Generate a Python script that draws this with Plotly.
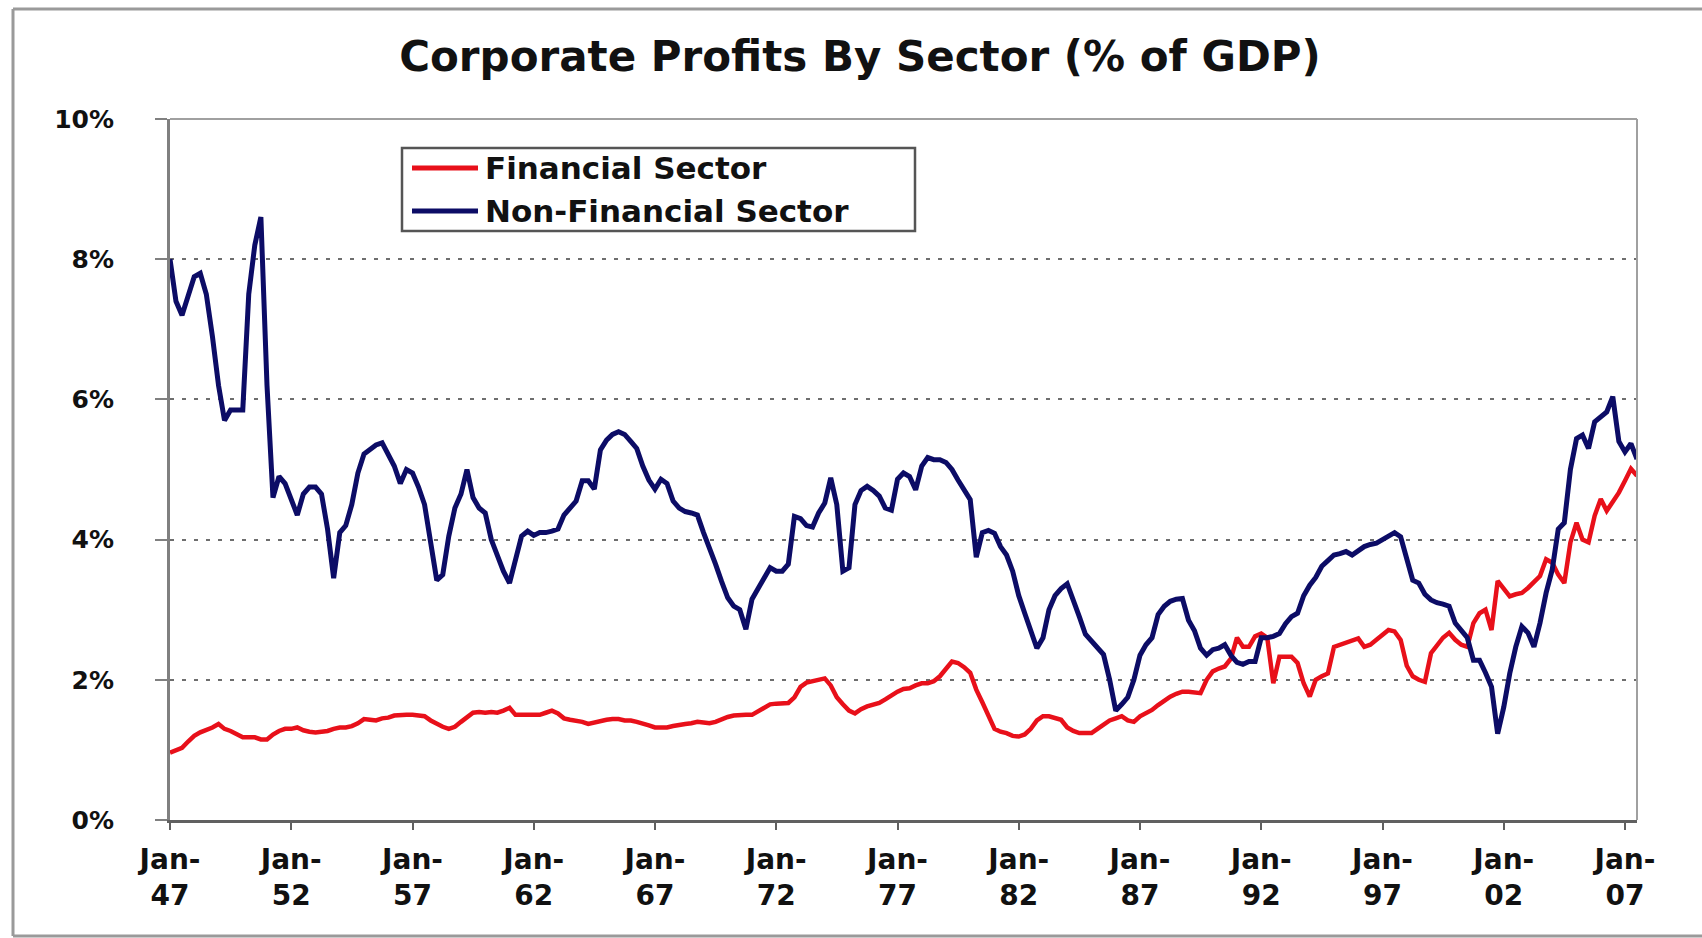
import pandas as pd
import plotly.graph_objects as go

# Quarterly corporate profits by sector, % of GDP, starting 1947 Q1
start_quarter = "1947-01-01"

financial = [
    0.96, 1.00, 1.03, 1.12,   # 1947
    1.20, 1.25, 1.28, 1.32,   # 1948
    1.37, 1.30, 1.27, 1.22,   # 1949
    1.18, 1.18, 1.18, 1.15,   # 1950
    1.15, 1.22, 1.27, 1.30,   # 1951
    1.30, 1.32, 1.28, 1.26,   # 1952
    1.25, 1.26, 1.27, 1.30,   # 1953
    1.32, 1.32, 1.34, 1.38,   # 1954
    1.44, 1.43, 1.42, 1.45,   # 1955
    1.46, 1.49, 1.50, 1.50,   # 1956
    1.50, 1.49, 1.48, 1.42,   # 1957
    1.37, 1.33, 1.30, 1.33,   # 1958
    1.40, 1.46, 1.53, 1.54,   # 1959
    1.53, 1.54, 1.53, 1.56,   # 1960
    1.60, 1.50, 1.50, 1.49,   # 1961
    1.50, 1.50, 1.53, 1.56,   # 1962
    1.52, 1.45, 1.43, 1.42,   # 1963
    1.40, 1.37, 1.39, 1.42,   # 1964
    1.43, 1.44, 1.44, 1.42,   # 1965
    1.42, 1.40, 1.38, 1.35,   # 1966
    1.32, 1.32, 1.32, 1.34,   # 1967
    1.36, 1.37, 1.38, 1.40,   # 1968
    1.39, 1.38, 1.40, 1.44,   # 1969
    1.47, 1.49, 1.50, 1.50,   # 1970
    1.50, 1.55, 1.60, 1.65,   # 1971
    1.66, 1.66, 1.67, 1.75,   # 1972
    1.90, 1.96, 1.98, 2.00,   # 1973
    2.02, 1.92, 1.75, 1.65,   # 1974
    1.56, 1.52, 1.58, 1.62,   # 1975
    1.64, 1.67, 1.72, 1.78,   # 1976
    1.83, 1.87, 1.88, 1.92,   # 1977
    1.95, 1.95, 1.98, 2.05,   # 1978
    2.15, 2.26, 2.24, 2.18,   # 1979
    2.10, 1.86, 1.68, 1.50,   # 1980
    1.30, 1.26, 1.24, 1.20,   # 1981
    1.19, 1.22, 1.30, 1.42,   # 1982
    1.48, 1.48, 1.46, 1.43,   # 1983
    1.32, 1.27, 1.24, 1.24,   # 1984
    1.24, 1.30, 1.36, 1.42,   # 1985
    1.45, 1.48, 1.42, 1.40,   # 1986
    1.48, 1.52, 1.57, 1.64,   # 1987
    1.70, 1.76, 1.80, 1.83,   # 1988
    1.83, 1.82, 1.81, 2.00,   # 1989
    2.12, 2.16, 2.19, 2.30,   # 1990
    2.60, 2.47, 2.47, 2.62,   # 1991
    2.66, 2.60, 1.95, 2.33,   # 1992
    2.33, 2.33, 2.24, 1.95,   # 1993
    1.76, 2.00, 2.05, 2.09,   # 1994
    2.47, 2.50, 2.53, 2.57,   # 1995
    2.59, 2.47, 2.50, 2.57,   # 1996
    2.64, 2.71, 2.69, 2.57,   # 1997
    2.20, 2.05, 2.00, 1.97,   # 1998
    2.38, 2.50, 2.60, 2.67,   # 1999
    2.57, 2.50, 2.47, 2.81,   # 2000
    2.95, 3.00, 2.71, 3.41,   # 2001
    3.29, 3.19, 3.22, 3.24,   # 2002
    3.31, 3.40, 3.48, 3.72,   # 2003
    3.67, 3.50, 3.38, 3.96,   # 2004
    4.24, 4.00, 3.96, 4.34,   # 2005
    4.58, 4.41, 4.53, 4.67,   # 2006
    4.84, 5.01, 4.91,         # 2007
]

non_financial = [
    8.00, 7.40, 7.20, 7.50,   # 1947
    7.75, 7.80, 7.50, 6.90,   # 1948
    6.20, 5.70, 5.85, 5.85,   # 1949
    5.85, 7.50, 8.20, 8.60,   # 1950
    6.20, 4.60, 4.90, 4.80,   # 1951
    4.55, 4.35, 4.65, 4.75,   # 1952
    4.75, 4.65, 4.15, 3.45,   # 1953
    4.10, 4.20, 4.50, 4.95,   # 1954
    5.22, 5.28, 5.35, 5.38,   # 1955
    5.20, 5.05, 4.80, 5.00,   # 1956
    4.95, 4.75, 4.50, 4.00,   # 1957
    3.42, 3.50, 4.05, 4.45,   # 1958
    4.65, 5.00, 4.60, 4.45,   # 1959
    4.38, 4.00, 3.75, 3.55,   # 1960
    3.38, 3.75, 4.05, 4.12,   # 1961
    4.06, 4.10, 4.10, 4.12,   # 1962
    4.15, 4.35, 4.45, 4.55,   # 1963
    4.84, 4.84, 4.72, 5.28,   # 1964
    5.42, 5.50, 5.54, 5.50,   # 1965
    5.40, 5.30, 5.05, 4.85,   # 1966
    4.72, 4.86, 4.80, 4.55,   # 1967
    4.45, 4.40, 4.38, 4.35,   # 1968
    4.10, 3.85, 3.65, 3.40,   # 1969
    3.17, 3.05, 3.00, 2.72,   # 1970
    3.15, 3.30, 3.45, 3.60,   # 1971
    3.55, 3.55, 3.65, 4.33,   # 1972
    4.30, 4.20, 4.18, 4.38,   # 1973
    4.52, 4.88, 4.50, 3.55,   # 1974
    3.60, 4.50, 4.70, 4.76,   # 1975
    4.70, 4.62, 4.45, 4.42,   # 1976
    4.86, 4.95, 4.90, 4.71,   # 1977
    5.05, 5.17, 5.14, 5.14,   # 1978
    5.10, 5.00, 4.85, 4.70,   # 1979
    4.57, 3.75, 4.10, 4.13,   # 1980
    4.09, 3.90, 3.78, 3.55,   # 1981
    3.20, 2.95, 2.70, 2.45,   # 1982
    2.60, 3.00, 3.20, 3.30,   # 1983
    3.37, 3.15, 2.90, 2.65,   # 1984
    2.55, 2.45, 2.36, 2.00,   # 1985
    1.56, 1.65, 1.75, 2.00,   # 1986
    2.35, 2.50, 2.60, 2.93,   # 1987
    3.05, 3.12, 3.15, 3.16,   # 1988
    2.85, 2.70, 2.45, 2.35,   # 1989
    2.43, 2.45, 2.50, 2.35,   # 1990
    2.25, 2.22, 2.26, 2.26,   # 1991
    2.60, 2.60, 2.62, 2.66,   # 1992
    2.80, 2.90, 2.95, 3.20,   # 1993
    3.35, 3.46, 3.62, 3.70,   # 1994
    3.78, 3.80, 3.83, 3.78,   # 1995
    3.85, 3.90, 3.93, 3.95,   # 1996
    4.00, 4.05, 4.10, 4.04,   # 1997
    3.70, 3.42, 3.38, 3.22,   # 1998
    3.14, 3.10, 3.08, 3.05,   # 1999
    2.81, 2.70, 2.60, 2.28,   # 2000
    2.28, 2.10, 1.90, 1.23,   # 2001
    1.61, 2.09, 2.47, 2.76,   # 2002
    2.67, 2.47, 2.81, 3.24,   # 2003
    3.57, 4.15, 4.24, 5.00,   # 2004
    5.44, 5.49, 5.30, 5.68,   # 2005
    5.75, 5.82, 6.04, 5.40,   # 2006
    5.25, 5.37, 5.15,         # 2007
]

series_names = ["Financial Sector", "Non-Financial Sector"]
series_colors = ["#e8101a", "#0c0c66"]
series_widths = [4.5, 5]

tick_years = list(range(1947, 2008, 5))
tick_dates = [f"{y}-01-01" for y in tick_years]
tick_labels = [f"Jan-<br>{y % 100:02d}" for y in tick_years]
y_ticks = [0, 2, 4, 6, 8, 10]
y_labels = [f"{v}%" for v in y_ticks]

dates = pd.date_range(start_quarter, periods=len(financial), freq="QS")

# Page geometry (pixels)
W, H = 1702, 938
L, R, T, B = 170, 65, 119, 118
FONT = "DejaVu Sans"


def px_x(x):
    return (x - L) / (W - L - R)


def px_y(y):
    return (H - B - y) / (H - T - B)


fig = go.Figure()
for name, values, color, width in zip(series_names, [financial, non_financial],
                                      series_colors, series_widths):
    fig.add_trace(go.Scatter(
        x=dates, y=values, mode="lines", name=name,
        line=dict(color=color, width=width), showlegend=False,
    ))

frame = dict(color="#9a9a9a", width=3)
shapes = [
    # frame around the chart: left, top and bottom edges
    dict(type="line", xref="paper", yref="paper",
         x0=px_x(13), x1=px_x(13), y0=px_y(936), y1=px_y(9), line=frame, layer="below"),
    dict(type="line", xref="paper", yref="paper",
         x0=px_x(13), x1=px_x(W), y0=px_y(9), y1=px_y(9), line=frame, layer="below"),
    dict(type="line", xref="paper", yref="paper",
         x0=px_x(13), x1=px_x(W), y0=px_y(936), y1=px_y(936), line=frame, layer="below"),
    # top and right edges of the plot area
    dict(type="line", xref="paper", yref="paper", x0=0, x1=1, y0=1, y1=1,
         line=dict(color="#a0a0a0", width=2), layer="above"),
    dict(type="line", xref="paper", yref="paper", x0=1, x1=1, y0=0, y1=1,
         line=dict(color="#a0a0a0", width=2), layer="above"),
    # legend box
    dict(type="rect", xref="paper", yref="paper",
         x0=px_x(402), x1=px_x(915), y0=px_y(231), y1=px_y(148),
         line=dict(color="#555555", width=2.5), fillcolor="white", layer="above"),
]
annotations = []
legend_rows = [168, 211]
for name, color, row in zip(series_names, series_colors, legend_rows):
    shapes.append(dict(type="line", xref="paper", yref="paper",
                       x0=px_x(412), x1=px_x(478), y0=px_y(row), y1=px_y(row),
                       line=dict(color=color, width=5), layer="above"))
    annotations.append(dict(xref="paper", yref="paper", x=px_x(483), y=px_y(row),
                            text=name, showarrow=False, xanchor="left", yanchor="middle",
                            font=dict(family=FONT, size=31, color="#111111", weight="bold")))

fig.update_layout(
    width=W, height=H,
    margin=dict(l=L, r=R, t=T, b=B, pad=0),
    paper_bgcolor="white", plot_bgcolor="white",
    title=dict(text="Corporate Profits By Sector (% of GDP)",
               x=860 / W, y=1 - 56 / H, xref="container", yref="container",
               xanchor="center", yanchor="middle",
               font=dict(family=FONT, size=42, color="#111111", weight="bold")),
    shapes=shapes, annotations=annotations,
)

fig.update_xaxes(
    type="date", range=[dates[0], dates[-1]],
    tickvals=tick_dates, ticktext=tick_labels,
    showgrid=False, zeroline=False,
    showline=True, linecolor="#606060", linewidth=3,
    ticks="outside", ticklen=7, tickwidth=2, tickcolor="#606060",
    ticklabelstandoff=5,
    tickfont=dict(family=FONT, size=28, color="#111111", weight="bold"),
)
fig.update_yaxes(
    range=[0, 10], tickvals=y_ticks, ticktext=y_labels,
    showgrid=True, gridcolor="#6e6e6e", gridwidth=1.5, griddash="4px,8px",
    zeroline=False,
    showline=True, linecolor="#808080", linewidth=3,
    ticks="outside", ticklen=12, tickwidth=2, tickcolor="#808080",
    ticklabelstandoff=36,
    tickfont=dict(family=FONT, size=25, color="#111111", weight="bold"),
)

fig.write_html("out.html")
